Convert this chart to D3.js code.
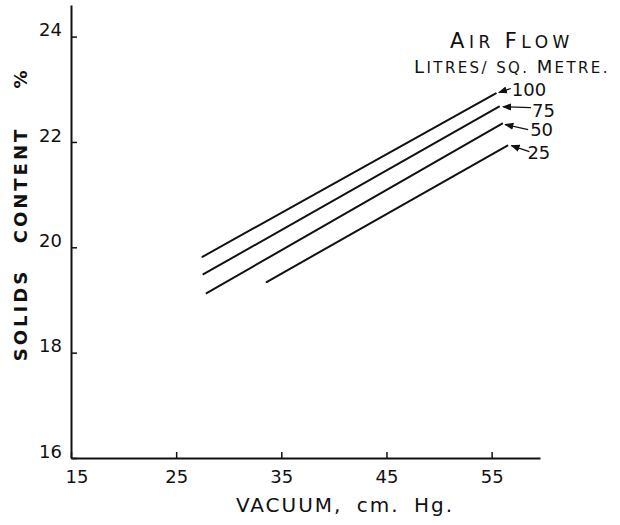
<!DOCTYPE html>
<html>
<head>
<meta charset="utf-8">
<script src="https://cdn.jsdelivr.net/npm/d3@7"></script>
<style>
  body { margin: 0; background: #fff; }
  svg { display: block; }
  text { font-family: "DejaVu Sans", sans-serif; fill: #111; }
</style>
</head>
<body>
<svg id="chart" width="620" height="525"></svg>
<script>
// values
const flows = [100, 75, 50, 25];
const vacuumStart = [27.5, 27.6, 27.9, 33.6];
const vacuumEnd = [55.4, 55.7, 56.0, 56.5];
const solidsStart = [19.82, 19.49, 19.13, 19.34];
const solidsEnd = [22.92, 22.67, 22.35, 21.93];
const xTicks = [15, 25, 35, 45, 55];
const yTicks = [16, 18, 20, 22, 24];

// where each flow label sits relative to the end of its line (px)
const labelOffset = [
  { tx: 16, ty: 3, ax1: 15, ay1: -5, ax2: 3, ay2: -1 },
  { tx: 33, ty: 10, ax1: 32, ay1: 1, ax2: 4, ay2: 0 },
  { tx: 28, ty: 12, ax1: 26, ay1: 6, ax2: 3, ay2: 1 },
  { tx: 20, ty: 13, ax1: 22, ay1: 6, ax2: 4, ay2: 0 }
];

const svg = d3.select("#chart");

const x = d3.scaleLinear().domain([15, 59.6]).range([71, 540]);
const y = d3.scaleLinear().domain([16, 24.6]).range([458, 5]);

svg.append("defs").append("marker")
    .attr("id", "head")
    .attr("viewBox", "0 0 10 10")
    .attr("refX", 9).attr("refY", 5)
    .attr("markerWidth", 7).attr("markerHeight", 7)
    .attr("orient", "auto")
  .append("path")
    .attr("d", "M0,1 L10,5 L0,9 Z")
    .attr("fill", "#111");

// Y axis, ticks pointing in
const yAxis = svg.append("g")
    .attr("transform", `translate(${x(15)},0)`)
    .call(d3.axisLeft(y).tickValues(yTicks).tickSizeInner(-6).tickSizeOuter(0).tickPadding(9));
yAxis.select(".domain").attr("stroke", "#111").attr("stroke-width", 2);
yAxis.selectAll(".tick line").attr("stroke", "#111").attr("stroke-width", 1.5);
yAxis.selectAll(".tick text")
    .attr("dy", "-0.05em")
    .attr("font-size", 18)
    .attr("font-family", "DejaVu Sans");

// X axis
const xAxis = svg.append("g")
    .attr("transform", `translate(0,${y(16)})`)
    .call(d3.axisBottom(x).tickValues(xTicks).tickSizeInner(-6).tickSizeOuter(0).tickPadding(12));
xAxis.select(".domain").attr("stroke", "#111").attr("stroke-width", 2);
xAxis.selectAll(".tick line").attr("stroke", "#111").attr("stroke-width", 1.5);
xAxis.selectAll(".tick text")
    .attr("dx", d => d === 15 ? "0.3em" : "0")
    .attr("font-size", 18)
    .attr("font-family", "DejaVu Sans");

// lines
flows.forEach((f, i) => {
  svg.append("line")
      .attr("x1", x(vacuumStart[i])).attr("y1", y(solidsStart[i]))
      .attr("x2", x(vacuumEnd[i])).attr("y2", y(solidsEnd[i]))
      .attr("stroke", "#111")
      .attr("stroke-width", 2)
      .attr("stroke-linecap", "round");

  const ex = x(vacuumEnd[i]), ey = y(solidsEnd[i]);
  const o = labelOffset[i];
  svg.append("line")
      .attr("x1", ex + o.ax1).attr("y1", ey + o.ay1)
      .attr("x2", ex + o.ax2).attr("y2", ey + o.ay2)
      .attr("stroke", "#111")
      .attr("stroke-width", 1.3)
      .attr("marker-end", "url(#head)");
  svg.append("text")
      .attr("x", ex + o.tx).attr("y", ey + o.ty)
      .attr("font-size", 18)
      .text(f);
});

// legend heading, hand-lettered small caps
function capsText(xc, yb, parts, big, small, spacing) {
  const t = svg.append("text")
      .attr("x", xc).attr("y", yb)
      .attr("text-anchor", "middle")
      .attr("letter-spacing", spacing);
  parts.forEach(p => {
    t.append("tspan")
        .attr("font-size", p[1] ? big : small)
        .text(p[0]);
  });
}
capsText(512, 48, [["A", 1], ["IR ", 0], ["F", 1], ["LOW", 0]], 21, 17, 4.5);
capsText(512, 73, [["L", 1], ["ITRES/ SQ. ", 0], ["M", 1], ["ETRE.", 0]], 18, 15, 2.4);

// axis titles
svg.append("text")
    .attr("x", 345).attr("y", 512)
    .attr("text-anchor", "middle")
    .attr("font-size", 20)
    .attr("letter-spacing", 2)
    .attr("word-spacing", 6)
    .text("VACUUM, cm. Hg.");

const yTitle = [
  { t: "SOLIDS", c: 315 },
  { t: "CONTENT", c: 185 },
  { t: "%", c: 78 }
];
yTitle.forEach(d => {
  svg.append("text")
      .attr("transform", `translate(27,${d.c}) rotate(-90)`)
      .attr("text-anchor", "middle")
      .attr("font-size", 18)
      .attr("font-weight", "bold")
      .attr("letter-spacing", 3)
      .text(d.t);
});
</script>
</body>
</html>
